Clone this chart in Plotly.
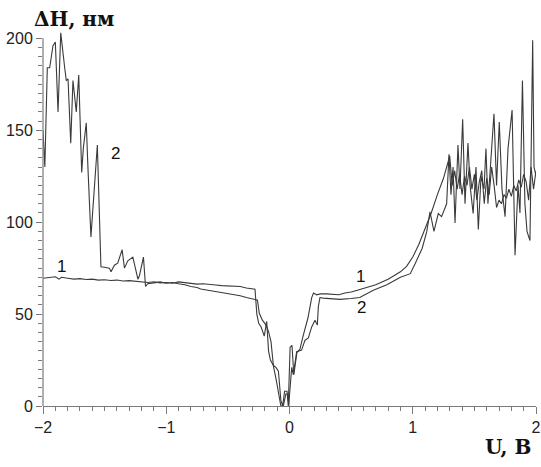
import plotly.graph_objects as go

# ---- data ----
c1_x = [-2.0, -1.95, -1.90, -1.87, -1.85, -1.80, -1.75, -1.70, -1.65, -1.60, -1.55, -1.50,
        -1.45, -1.40, -1.35, -1.30, -1.25, -1.20, -1.15, -1.10, -1.05, -1.00, -0.95, -0.90,
        -0.85, -0.80, -0.75, -0.70, -0.65, -0.60, -0.55, -0.50, -0.45, -0.40, -0.35, -0.30,
        -0.28, -0.265, -0.25, -0.23, -0.205, -0.185, -0.17, -0.155, -0.13, -0.11, -0.09,
        -0.07, -0.055, -0.04, -0.02, -0.01, 0.005, 0.02, 0.035, 0.06, 0.085, 0.11, 0.15,
        0.18, 0.195, 0.22, 0.25, 0.30, 0.35, 0.40, 0.45, 0.50, 0.55, 0.60, 0.65, 0.70,
        0.75, 0.80, 0.85, 0.90, 0.95, 1.00, 1.05, 1.10, 1.15, 1.20, 1.25, 1.30, 1.32,
        1.34, 1.36, 1.38, 1.40, 1.42, 1.44, 1.46, 1.48, 1.50, 1.52, 1.54, 1.56, 1.58,
        1.60, 1.62, 1.64, 1.66, 1.68, 1.70, 1.72, 1.74, 1.76, 1.78, 1.80, 1.82, 1.84,
        1.86, 1.88, 1.90, 1.92, 1.94, 1.96, 1.98, 2.00]
c1_y = [69.5, 70, 70.3, 69, 70, 69.5, 69.0, 69.3, 68.8, 69, 68.5, 68.7,
        68.3, 68.5, 68, 68.2, 67.8, 67.5, 67.2, 67.6, 67, 67.2, 66.8, 67.5,
        67, 66.8, 66.3, 66.5, 66, 65.8, 65.5, 65.3, 64.8, 65, 64.2, 63.8,
        63.5, 50, 45, 43, 38, 46, 30, 25, 22, 21, 19,
        3, 0, 8, 8, 0, 32, 33, 17, 29, 31, 38, 48,
        59, 61.5, 60.5, 61, 61, 60.8, 60.5, 61.5, 62, 63, 64, 65, 66,
        67.5, 69, 71, 73, 76, 81, 88, 96, 105, 115, 124, 136, 120,
        128, 118, 126, 115, 125, 120, 130, 118, 126, 112, 122, 128, 110,
        124, 115, 130, 120, 108, 112, 110, 115, 113, 118, 114, 120, 117,
        123, 119, 126, 122, 112, 130, 118, 128]

c2_x = [-2.0, -1.985, -1.965, -1.946, -1.919, -1.90, -1.878, -1.856, -1.824, -1.811,
        -1.797, -1.775, -1.757, -1.73, -1.71, -1.686, -1.673, -1.649, -1.635, -1.611,
        -1.559, -1.53, -1.502, -1.461, -1.448, -1.421, -1.394, -1.358, -1.339, -1.312,
        -1.271, -1.23, -1.217, -1.185, -1.168, -1.15, -1.10, -1.05, -1.00, -0.95, -0.90,
        -0.85, -0.80, -0.75, -0.72, -0.65, -0.60, -0.55, -0.50, -0.45, -0.40, -0.35,
        -0.30, -0.26, -0.245, -0.22, -0.19, -0.17, -0.15, -0.13, -0.11, -0.085, -0.07,
        -0.05, -0.03, -0.015, -0.005, 0.0, 0.018, 0.031, 0.058, 0.098, 0.126, 0.153,
        0.18, 0.207, 0.226, 0.234, 0.247, 0.274, 0.41, 0.50, 0.57, 0.68, 0.79, 0.90,
        0.98, 1.02, 1.076, 1.113, 1.14, 1.172, 1.207, 1.234, 1.275, 1.294, 1.31, 1.327,
        1.343, 1.367, 1.383, 1.405, 1.424, 1.448, 1.465, 1.49, 1.513, 1.532, 1.554,
        1.578, 1.594, 1.61, 1.635, 1.659, 1.68, 1.702, 1.724, 1.749, 1.773, 1.806,
        1.83, 1.854, 1.87, 1.89, 1.91, 1.927, 1.951, 1.973, 1.984, 2.0]
c2_y = [150, 130, 184, 184, 196, 198, 160, 203, 184, 177,
        178, 143, 177, 160, 180, 127, 140, 154, 129, 92,
        142, 75.7, 75.5, 75, 73, 76.6, 77.7, 85, 75, 79,
        81, 69, 71, 81, 65, 66.5, 67, 67.5, 66.8, 67.2, 66.5,
        66, 65, 64.5, 63.6, 62.8, 62, 61.5, 61, 60.5, 60, 59,
        58, 57.6, 50.4, 46.7, 44, 40.4, 35, 21.5, 15, 6, 0,
        0, 6.5, 6.5, 0, 6, 21, 17, 29.5, 30.4, 35.8, 37,
        43, 46.7, 44, 54, 59, 58.7, 58, 58.5, 59, 63, 66, 70,
        72, 77.5, 85.7, 94.7, 105.6, 95, 104.7, 103, 110, 137, 115, 130,
        99.5, 142, 118, 156, 110, 143, 120, 104.7, 130, 96, 125,
        118, 140, 110, 135, 159, 120, 154.5, 118, 103, 140, 161,
        82, 120, 105, 177, 110, 95, 90, 199, 130, 125]

x_ticks = [-2, -1, 0, 1, 2]
x_ticklabels = ["\u22122", "\u22121", "0", "1", "2"]
y_ticks = [0, 50, 100, 150, 200]
y_ticklabels = ["0", "50", "100", "150", "200"]

curve_labels = [("2", -1.415, 137.5), ("1", -1.846, 76), ("1", 0.572, 70.6), ("2", 0.586, 53.5)]

line_col = "#3a3a3a"
axis_col = "#7a7a7a"
tick_font = dict(family="Liberation Sans", size=16, color="#222")

W, H = 541, 467
ML, MR, MT, MB = 43, 5, 31, 61
PW, PH = W - ML - MR, H - MT - MB


def px_to_paper(px, py):
    return (px - ML) / PW, (H - MB - py) / PH


fig = go.Figure()
fig.add_trace(go.Scatter(x=c1_x, y=c1_y, mode="lines", line=dict(color=line_col, width=1.1),
                         showlegend=False))
fig.add_trace(go.Scatter(x=c2_x, y=c2_y, mode="lines", line=dict(color=line_col, width=1.1),
                         showlegend=False))

for txt, lx, ly in curve_labels:
    fig.add_annotation(x=lx, y=ly, text=txt, showarrow=False, xref="x", yref="y",
                       font=dict(family="Liberation Sans", size=17, color="#111"))

ax, ay = px_to_paper(32, 19)
fig.add_annotation(x=ax, y=ay, xref="paper", yref="paper", text="<b>\u0394H, \u043d\u043c</b>",
                   showarrow=False, xanchor="left", yanchor="middle",
                   font=dict(family="DejaVu Serif", size=20, color="#111"))
bx, by = px_to_paper(533, 447)
fig.add_annotation(x=bx, y=by, xref="paper", yref="paper", text="<b>U, B</b>",
                   showarrow=False, xanchor="right", yanchor="middle",
                   font=dict(family="DejaVu Serif", size=20, color="#111"))

# left axis line only from 0 to 200
fig.add_shape(type="line", xref="paper", yref="y", x0=0, x1=0, y0=0, y1=200,
              line=dict(color=axis_col, width=1.2))

fig.update_layout(
    width=W, height=H,
    margin=dict(l=ML, r=MR, t=MT, b=MB, autoexpand=False),
    paper_bgcolor="white", plot_bgcolor="white",
    xaxis=dict(range=[-2, 2], tickvals=x_ticks, ticktext=x_ticklabels, automargin=False,
               showgrid=False, zeroline=False, showline=True, linecolor=axis_col, linewidth=1.2,
               ticks="outside", ticklen=7, tickcolor=axis_col, tickwidth=1.2, tickfont=tick_font,
               minor=dict(dtick=0.1, tick0=0, ticks="outside", ticklen=4, tickcolor=axis_col,
                          tickwidth=1, showgrid=False)),
    yaxis=dict(range=[0, 204], tickvals=y_ticks, ticktext=y_ticklabels, automargin=False,
               showgrid=False, zeroline=False, showline=False,
               ticks="outside", ticklen=6, tickcolor=axis_col, tickwidth=1.2, tickfont=tick_font,
               minor=dict(tickvals=[v for v in range(5, 200, 5) if v % 50], ticks="outside",
                          ticklen=4, tickcolor=axis_col, tickwidth=1, showgrid=False)),
)

fig.write_html("out.html", config={"displayModeBar": False},
               post_script="document.body.style.margin='0px';document.body.style.overflow='hidden';")
